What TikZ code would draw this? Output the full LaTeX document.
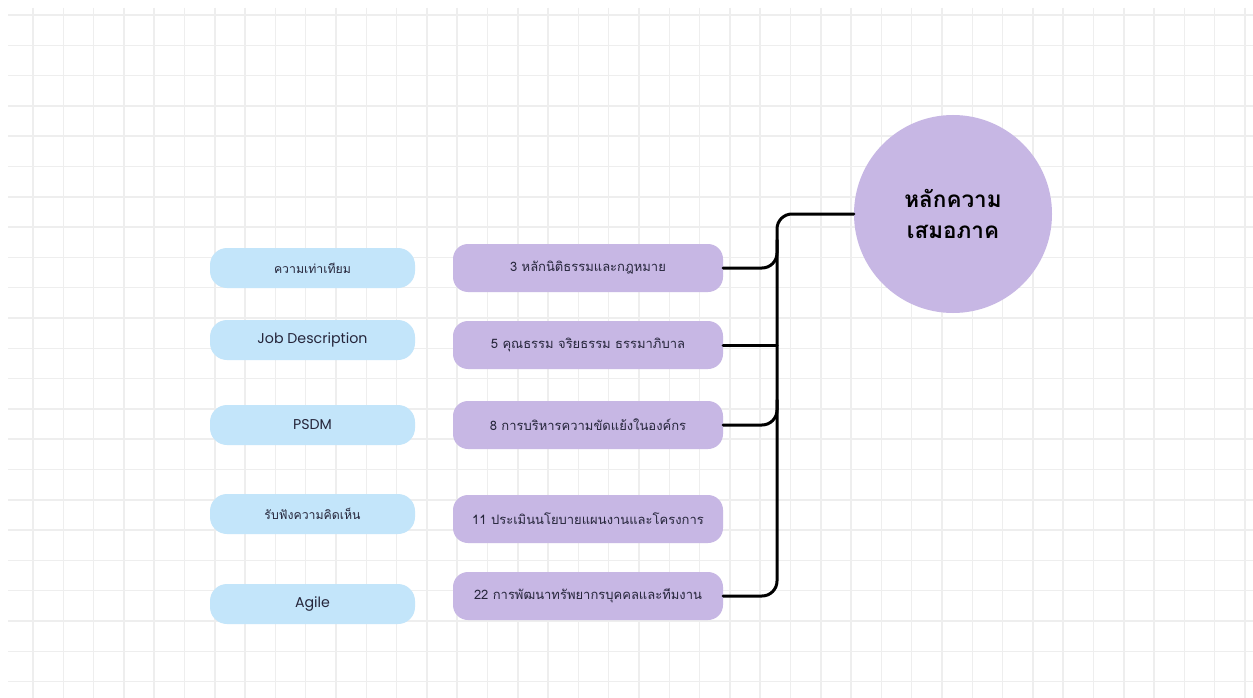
\documentclass[tikz,border=0pt]{standalone}
\usepackage{fontspec}
\setmainfont{Poppins}
\newfontfamily\thai[Script=Thai]{Loma}

\definecolor{gridc}{HTML}{EEEEEE}
\definecolor{lav}{HTML}{C7B7E4}
\definecolor{sky}{HTML}{C3E5FA}
\definecolor{ink}{HTML}{25253A}

\tikzset{
  topicbox/.style={rectangle, rounded corners=15pt, fill=lav, draw=none,
    minimum width=270pt, minimum height=48pt, text=ink,
    font=\thai\fontsize{13}{15}\selectfont},
  notebox/.style={rectangle, rounded corners=17pt, fill=sky, draw=none,
    minimum width=205pt, minimum height=40pt, text=ink,
    font=\fontsize{14.2}{16}\selectfont},
  thainote/.style={notebox, font=\thai\fontsize{12.3}{15}\selectfont},
  hubnode/.style={circle, fill=lav, draw=none, minimum size=198pt,
    align=center, text=black,
    font=\thai\bfseries\fontsize{22.5}{31}\selectfont},
  link/.style={draw=black, line width=3pt, rounded corners=15pt, line cap=round},
  gridline/.style={draw=gridc, line width=1.5pt}
}

\begin{document}
\begin{tikzpicture}[x=1pt, y=-1pt]
  % canvas
  \fill[white] (0,0) rectangle (1253,698);
  \useasboundingbox (0,0) rectangle (1253,698);

  % background grid
  \foreach \i in {1,...,41}
    \draw[gridline] ({2.7+30.3*\i},8) -- ({2.7+30.3*\i},698);
  \foreach \j in {0,...,22}
    \draw[gridline] (8,{15+30.3*\j}) -- (1253,{15+30.3*\j});

  % central topic
  \node[hubnode] (hub) at (953,214) {หลักความ\\เสมอภาค};

  % course topics
  \node[topicbox] (p1) at (588,268) {3 หลักนิติธรรมและกฎหมาย};
  \node[topicbox] (p2) at (588,345) {5 คุณธรรม จริยธรรม ธรรมาภิบาล};
  \node[topicbox] (p3) at (588,425) {8 การบริหารความขัดแย้งในองค์กร};
  \node[topicbox] (p4) at (588,519) {11 ประเมินนโยบายแผนงานและโครงการ};
  \node[topicbox] (p5) at (588,596) {22 การพัฒนาทรัพยากรบุคคลและทีมงาน};

  % keywords
  \node[thainote] (b1) at (312.5,268) {ความเท่าเทียม};
  \node[notebox] (b2) at (312.5,340) {Job Description};
  \node[notebox] (b3) at (312.5,425) {PSDM};
  \node[thainote] (b4) at (312.5,514) {รับฟังความคิดเห็น};
  \node[notebox] (b5) at (312.5,604) {Agile};

  % trunk joints
  \coordinate (bend) at (777,214);
  \coordinate (m1) at (777,240);
  \coordinate (m3) at (777,400);

  % connectors
  \draw[link] (p5.east) -| (bend) -- (hub.west);
  \draw[link] (p1.east) -| (m1);
  \draw[link] (p3.east) -| (m3);
  \draw[link] (p2.east) -- (p2.east -| bend);
\end{tikzpicture}
\end{document}
